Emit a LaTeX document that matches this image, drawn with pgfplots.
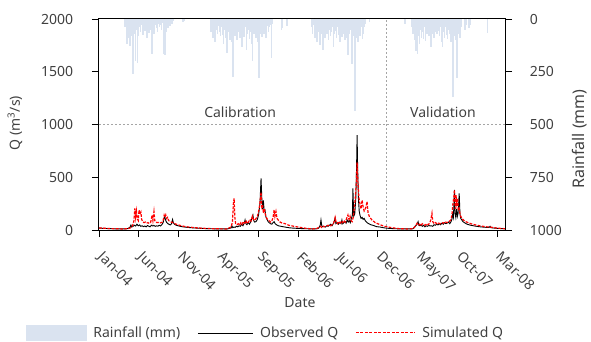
\documentclass[border=0pt]{standalone}
\usepackage{pgfplots}
\pgfplotsset{compat=1.18}
\usepackage{fontspec}
\setmainfont{Noto Sans}
\definecolor{rainc}{RGB}{218,227,240}
\definecolor{txt}{RGB}{64,64,64}
\definecolor{gridc}{RGB}{165,165,165}
\begin{document}
\fontsize{14}{17}\selectfont
\begin{tikzpicture}
\path[use as bounding box] (-99pt,-112pt) rectangle (492pt,230pt);
\begin{axis}[
 at={(0pt,0pt)}, anchor=south west, scale only axis, width=406pt, height=211pt,
 xmin=0, xmax=1551, ymin=0, ymax=2000,
 xtick={0,152,305,456,609,762,912,1065,1216,1369,1521},
 xticklabels={Jan-04,Jun-04,Nov-04,Apr-05,Sep-05,Feb-06,Jul-06,Dec-06,May-07,Oct-07,Mar-08},
 ytick={0,500,1000,1500,2000},
 tick align=outside, tick pos=left, major tick length=7pt,
 /pgf/number format/assume math mode=true,
 /pgf/number format/1000 sep={},
 axis line style={black, line width=1pt},
 every tick/.style={black, line width=0.8pt},
 xticklabel style={xshift=6pt, yshift=-12pt, rotate=-45, anchor=north west, text=txt, inner sep=1pt},
 yticklabel style={text=txt, xshift=-14pt},
 xlabel={Date}, xlabel style={at={(axis description cs:0.495,-0.346)}, anchor=center, text=txt},
 ylabel={Q (m\textsuperscript{3}/s)}, ylabel style={at={(axis description cs:-0.207,0.507)}, anchor=center, text=txt},
 legend style={at={(axis description cs:0.41,-0.488)}, anchor=center, draw=none, fill=none, legend columns=3, text=txt,
   /tikz/every even column/.append style={column sep=15pt},
   /tikz/every odd column/.append style={column sep=5pt}},
 legend cell align=left,
]
\addlegendimage{legend image code/.code={\fill[rainc] (0pt,-7.5pt) rectangle (60pt,7.5pt);}}
\addlegendentry{Rainfall (mm)}
\addplot[gridc, line width=0.8pt, dash pattern=on 2pt off 2pt, forget plot] coordinates {(0,1000) (1551,1000)};
\addplot[gridc, line width=0.8pt, dash pattern=on 2pt off 2pt, forget plot] coordinates {(1096,0) (1096,2000)};
\addplot[black, line width=0.9pt, legend image code/.code={\draw (0pt,0pt)--(55pt,0pt);}] coordinates {
(0,18) (20,15) (50,12) (80,10) (100,10) (110,14) (118,25) (122,47) (125,28) (130,35) (135,45) (140,38) (145,55) (150,40) (155,48) (160,35) (165,40) (170,32) (175,38) (180,30) (185,42) (190,36) (195,30) (200,45) (205,38) (210,42) (215,35) (220,40) (225,36) (230,45) (235,38) (240,50) (245,70) (248,110) (251,125) (255,90) (259,70) (263,60) (267,55) (272,48) (277,60) (281,100) (284,70) (288,55) (295,45) (305,38) (320,30) (340,24) (360,20) (380,17) (400,14) (430,12) (460,10) (490,10) (505,20) (508,38) (511,22) (515,28) (520,25) (525,35) (530,30) (535,40) (540,35) (545,55) (550,40) (555,65) (558,95) (561,60) (565,50) (570,70) (575,55) (580,80) (585,120) (588,142) (591,90) (595,75) (600,80) (605,100) (610,150) (615,250) (619,490) (622,300) (625,200) (628,280) (631,180) (634,190) (638,120) (642,100) (646,80) (650,70) (655,60) (660,55) (665,70) (669,79) (673,60) (678,50) (685,40) (695,35) (710,28) (730,20) (760,15) (790,12) (820,10) (835,12) (840,20) (845,45) (848,95) (851,40) (855,30) (860,35) (865,28) (870,40) (875,35) (880,45) (885,55) (890,40) (895,60) (899,85) (902,110) (905,60) (910,70) (915,55) (920,75) (925,60) (928,95) (931,60) (935,70) (940,80) (944,65) (948,95) (952,75) (956,90) (960,70) (964,110) (968,140) (970,395) (973,130) (977,150) (981,300) (984,600) (986,900) (988,600) (991,300) (994,180) (997,140) (1001,110) (1005,120) (1009,100) (1013,110) (1018,85) (1024,70) (1030,60) (1038,50) (1046,45) (1060,32) (1074,28) (1090,20) (1110,15) (1130,12) (1160,10) (1190,10) (1200,12) (1205,25) (1210,40) (1215,55) (1219,79) (1222,45) (1226,40) (1230,50) (1235,35) (1240,45) (1245,30) (1250,40) (1255,35) (1260,45) (1265,38) (1270,40) (1275,35) (1280,50) (1285,45) (1290,55) (1295,48) (1300,60) (1305,50) (1310,65) (1315,55) (1320,70) (1325,60) (1330,65) (1335,75) (1340,60) (1345,80) (1348,100) (1351,150) (1354,120) (1358,380) (1360,160) (1363,120) (1366,200) (1369,130) (1372,160) (1376,348) (1379,150) (1382,110) (1386,95) (1390,80) (1396,70) (1402,60) (1410,52) (1420,45) (1435,38) (1450,32) (1465,28) (1480,25) (1490,24) (1494,35) (1497,22) (1510,18) (1530,14) (1551,12)};
\addlegendentry{Observed Q}
\addplot[red, line width=1.2pt, dash pattern=on 2.8pt off 1.4pt, legend image code/.code={\draw[line width=1pt, dash pattern=on 3pt off 1.5pt] (0pt,0pt)--(59pt,0pt);}] coordinates {
(0,20) (30,15) (60,12) (90,10) (110,12) (120,20) (128,40) (133,80) (137,205) (140,120) (143,180) (146,110) (150,90) (153,190) (156,150) (160,170) (163,100) (167,80) (172,70) (177,75) (182,65) (187,70) (192,62) (197,70) (203,142) (206,90) (210,174) (213,90) (217,75) (222,70) (227,72) (232,65) (237,70) (242,75) (246,100) (249,140) (252,120) (255,142) (258,110) (262,120) (266,90) (270,80) (276,75) (282,70) (290,60) (300,50) (315,40) (330,32) (350,26) (375,20) (400,16) (430,13) (460,11) (490,10) (505,30) (510,80) (513,240) (516,300) (519,120) (522,60) (527,50) (532,60) (537,45) (542,70) (547,55) (552,80) (557,65) (562,90) (566,60) (571,75) (576,100) (581,85) (586,130) (590,100) (595,90) (600,110) (605,130) (610,180) (614,240) (619,360) (622,220) (625,240) (628,160) (632,200) (636,140) (641,110) (646,95) (651,85) (656,75) (661,90) (665,120) (669,190) (672,130) (676,175) (680,110) (686,90) (692,75) (700,65) (711,60) (725,45) (745,35) (768,25) (790,16) (814,10) (830,12) (840,25) (846,35) (850,25) (855,40) (860,30) (868,35) (875,45) (882,35) (890,50) (896,60) (902,120) (906,70) (911,60) (916,80) (921,65) (926,85) (931,70) (936,90) (941,75) (946,110) (951,142) (955,100) (959,130) (963,90) (967,80) (971,120) (975,200) (979,300) (983,450) (986,640) (989,450) (993,300) (997,250) (1001,200) (1005,284) (1009,220) (1013,180) (1018,200) (1024,270) (1028,160) (1034,120) (1043,95) (1055,70) (1074,50) (1090,35) (1112,25) (1130,18) (1150,12) (1180,10) (1200,12) (1206,30) (1212,50) (1215,63) (1220,45) (1225,55) (1230,40) (1235,60) (1240,50) (1246,45) (1252,60) (1258,50) (1264,70) (1268,100) (1272,158) (1275,80) (1280,60) (1286,70) (1292,55) (1298,65) (1304,60) (1310,70) (1316,65) (1322,80) (1328,70) (1334,75) (1340,85) (1345,100) (1349,160) (1352,250) (1355,300) (1358,380) (1361,200) (1364,330) (1367,250) (1370,300) (1373,180) (1376,200) (1380,140) (1386,110) (1392,95) (1400,80) (1410,70) (1420,60) (1435,50) (1450,42) (1465,36) (1480,30) (1494,28) (1510,22) (1530,16) (1551,12)};
\addlegendentry{Simulated Q}
\node[text=txt] at (axis cs:539,1118) {Calibration};
\node[text=txt] at (axis cs:1314,1118) {Validation};
\end{axis}
\begin{axis}[
 at={(0pt,0pt)}, anchor=south west, scale only axis, width=406pt, height=211pt,
 xmin=0, xmax=1551, ymin=0, ymax=1000, y dir=reverse,
 axis x line=none, axis y line*=right,
 ytick={0,250,500,750,1000},
 tick align=outside, major tick length=7pt,
 /pgf/number format/assume math mode=true,
 /pgf/number format/1000 sep={},
 axis line style={black, line width=1pt},
 every tick/.style={black, line width=0.8pt},
 yticklabel style={text=txt, xshift=13pt},
 ylabel={Rainfall (mm)}, ylabel style={at={(axis description cs:1.184,0.431)}, anchor=center, text=txt, inner sep=1pt, font=\fontsize{16}{19}\selectfont},
]
\addplot[ycomb, rainc, line width=1.6pt] coordinates {
(99,40) (103,25) (107,120) (111,90) (115,60) (119,130) (123,80) (127,35) (131,260) (135,70) (139,200) (143,50) (147,210) (151,80) (155,40) (159,60) (163,30) (167,75) (171,45) (175,55) (179,30) (183,90) (187,40) (191,65) (195,35) (199,50) (203,165) (207,40) (211,70) (215,30) (219,45) (223,60) (227,25) (231,40) (235,30) (239,50) (243,20) (247,165) (251,170) (255,60) (259,30) (263,45) (267,20) (271,35) (275,15) (279,25) (283,10) (321,12) (325,8)
(428,60) (432,30) (436,90) (440,40) (444,110) (448,50) (452,70) (456,35) (460,60) (464,80) (468,40) (472,75) (476,120) (480,50) (484,90) (488,160) (492,60) (496,45) (500,100) (504,70) (508,110) (511,275) (515,60) (519,80) (523,45) (527,100) (531,60) (535,40) (539,90) (543,70) (547,135) (551,60) (555,85) (559,40) (563,145) (567,70) (571,50) (575,95) (579,60) (583,120) (587,200) (591,70) (595,45) (599,90) (603,60) (607,110) (611,280) (615,70) (619,50) (623,85) (627,40) (631,70) (635,55) (639,90) (643,35) (647,60) (651,40) (655,30) (659,185) (663,25) (697,50) (701,45) (718,35)
(812,40) (816,70) (820,30) (824,90) (828,50) (832,110) (836,60) (840,40) (844,125) (848,70) (852,50) (856,145) (860,60) (864,90) (868,40) (872,70) (876,100) (880,50) (884,80) (888,60) (892,40) (896,135) (900,70) (904,55) (908,90) (912,40) (916,75) (920,110) (924,60) (928,85) (932,45) (936,70) (940,100) (944,60) (948,90) (952,170) (956,70) (960,50) (964,120) (967,215) (971,80) (975,60) (978,435) (982,90) (986,60) (990,110) (994,50) (998,80) (1002,40) (1006,95) (1010,70) (1014,40) (1018,25) (1034,15)
(1169,25) (1196,40) (1200,70) (1204,30) (1208,100) (1212,150) (1216,165) (1220,80) (1224,120) (1228,50) (1232,90) (1236,60) (1240,95) (1244,40) (1248,105) (1252,70) (1256,50) (1260,80) (1264,60) (1268,135) (1272,70) (1276,45) (1280,90) (1284,60) (1288,40) (1292,70) (1296,55) (1300,80) (1304,40) (1308,110) (1312,135) (1316,60) (1320,90) (1324,40) (1328,75) (1332,95) (1336,50) (1340,70) (1344,110) (1348,60) (1352,370) (1356,80) (1360,60) (1364,100) (1368,280) (1372,70) (1376,50) (1380,90) (1384,40) (1399,50) (1403,30) (1414,45) (1418,30) (1484,65)};
\end{axis}
\end{tikzpicture}
\end{document}
